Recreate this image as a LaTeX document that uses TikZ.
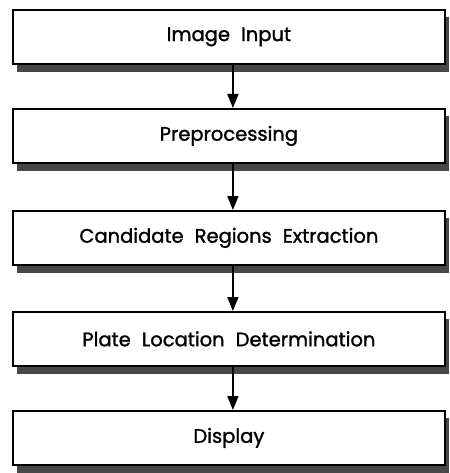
\documentclass[tikz,border=0pt]{standalone}
\usepackage{fontspec}
\setmainfont{Poppins}[FakeBold=1.4]
\usetikzlibrary{arrows.meta}
\begin{document}
\begin{tikzpicture}[x=1pt,y=-1pt,
  stepbox/.style={draw=black,line width=1.8pt,fill=white,minimum width=432pt,minimum height=54pt,inner sep=0pt,font=\fontsize{19.5}{22}\selectfont,anchor=north west},
  shadowbox/.style={fill=black!72},
  flow/.style={line width=1.8pt,-{Triangle[length=14pt,width=11pt]}}]
\useasboundingbox (0,0) rectangle (449,473);
\foreach \t in {9,108,210,311,410}{
  \fill[shadowbox] (17,\t+8) rectangle (449,\t+63);
}
\node[stepbox] (b1) at (12,9) {Image\hspace{0.3em} Input};
\node[stepbox] (b2) at (12,108) {Preprocessing};
\node[stepbox] (b3) at (12,210) {Candidate\hspace{0.3em} Regions\hspace{0.3em} Extraction};
\node[stepbox] (b4) at (12,311) {Plate\hspace{0.3em} Location\hspace{0.3em} Determination};
\node[stepbox] (b5) at (12,410) {Display};
\foreach \a/\b in {b1/b2,b2/b3,b3/b4,b4/b5}{
  \draw[flow] ([xshift=4pt]\a.south) -- ([xshift=4pt]\b.north);
}
\end{tikzpicture}
\end{document}
